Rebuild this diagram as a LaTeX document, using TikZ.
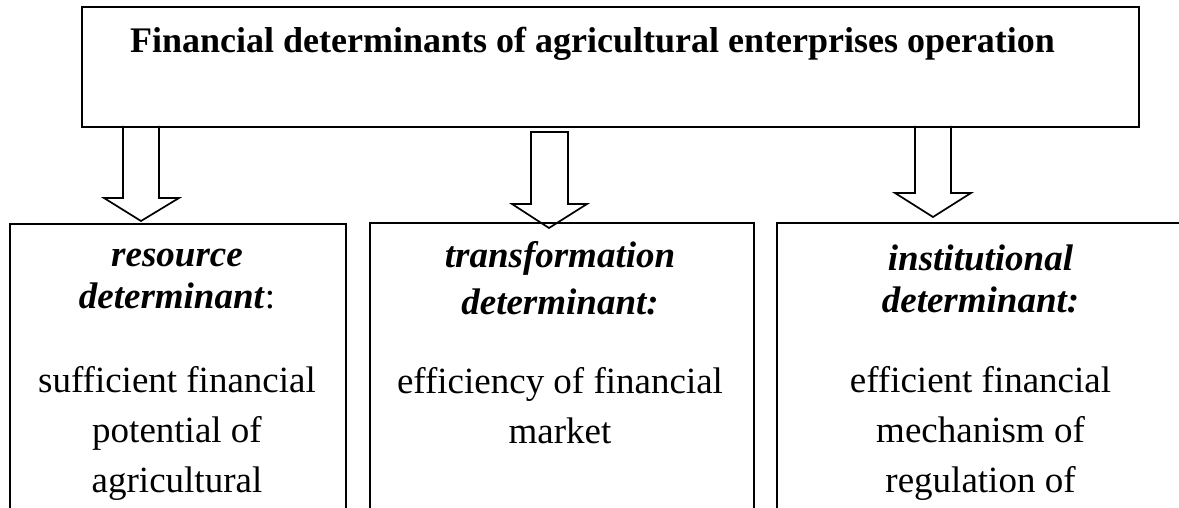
\documentclass[tikz,border=0pt]{standalone}
\usepackage{fontspec}
\setmainfont[Ligatures=NoCommon]{Liberation Serif}
\begin{document}
\begin{tikzpicture}[x=1pt,y=-1pt,
  boxline/.style={draw=black,line width=1.7pt},
  blockarrow/.style={draw=black,line width=1.7pt,line join=miter},
  txt/.style={anchor=base,inner sep=0pt,font=\fontsize{37}{44}\selectfont},
  hd/.style={txt,font=\fontsize{37}{44}\selectfont\bfseries\itshape}]
\useasboundingbox (0,0) rectangle (1179,508);
\fill[white] (0,0) rectangle (1179,508);
% top box
\node[boxline,anchor=north west,minimum width=1057pt,minimum height=120pt,inner sep=0pt] (top) at (81,6) {};
\node[txt,font=\fontsize{36}{44}\selectfont\bfseries] (title) at (592.5,53) {Financial determinants of agricultural enterprises operation};
% lower boxes
\node[boxline,anchor=north west,minimum width=336pt,minimum height=310pt,inner sep=0pt] (b1) at (9,223) {};
\node[boxline,anchor=north west,minimum width=384pt,minimum height=310pt,inner sep=0pt] (b2) at (369,222) {};
\draw[line width=1.7pt] (1200,223) -- (777,223) -- (777,540);
\coordinate (b3) at (777,223);
% texts box 1
\node[hd] (r1) at (177,266) {resource};
\node[hd] (r2) at (177,308) {determinant\textup{\mdseries :}};
\node[txt] (r3) at (177,392) {sufficient financial};
\node[txt] (r4) at (177,442) {potential of};
\node[txt] (r5) at (177,492) {agricultural};
% texts box 2
\node[hd] (t1) at (560,267) {transformation};
\node[hd] (t2) at (560,314) {determinant:};
\node[txt] (t3) at (560,393) {efficiency of financial};
\node[txt] (t4) at (560,443) {market};
% texts box 3
\node[hd] (i1) at (980.5,270) {institutional};
\node[hd] (i2) at (980.5,312) {determinant:};
\node[txt] (i3) at (980.5,392) {efficient financial};
\node[txt] (i4) at (980.5,442) {mechanism of};
\node[txt] (i5) at (980.5,492) {regulation of};
% arrows
\draw[blockarrow] (123,126) -- (123,198) -- (104,198) -- (141,221) -- (179,198) -- (159,198) -- (159,126);
\draw[blockarrow] (531,132) -- (531,204) -- (512,204) -- (549,228) -- (587,204) -- (568,204) -- (568,132) -- cycle;
\draw[blockarrow] (915,126) -- (915,193) -- (895,193) -- (933,217) -- (971,193) -- (951,193) -- (951,126);
\end{tikzpicture}
\end{document}
